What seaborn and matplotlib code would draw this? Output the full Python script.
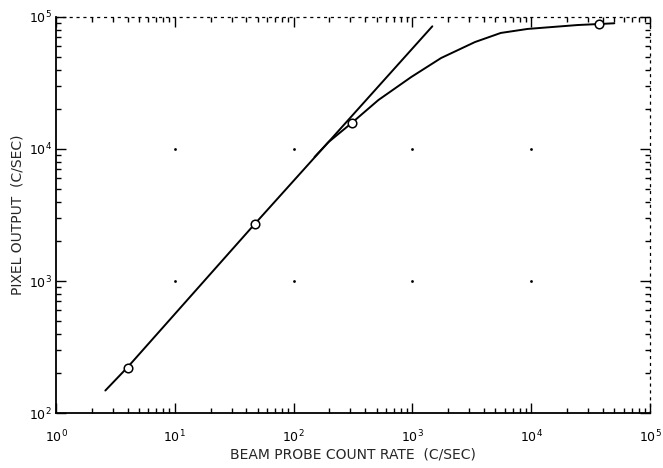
import numpy as np
import pandas as pd
import matplotlib
matplotlib.use("Agg")
import matplotlib.pyplot as plt
import seaborn as sns
from matplotlib.ticker import LogLocator, LogFormatterMathtext, NullFormatter

# Linear-response reference line (pixel output proportional to probe rate)
line_rate = [2.6, 4.0, 47, 200, 1470]
line_output = [148, 222, 2700, 11500, 85000]

# Measured pixel response, rolling off toward saturation
curve_rate = [150, 197, 307, 517, 977, 1743, 3360, 5540, 9330, 24500, 37400, 50000]
curve_output = [8700, 11300, 15700, 23500, 35100, 48900, 64600, 75700, 81200, 86900, 88500, 89600]

# Open-circle measurement markers
point_rate = [4.0, 47, 307, 37400]
point_output = [220, 2700, 15700, 88500]

x_label = "BEAM PROBE COUNT RATE  (C/SEC)"
y_label = "PIXEL OUTPUT  (C/SEC)"
x_limits = (1, 1e5)
y_limits = (1e2, 1e5)

sns.set_style("ticks")
plt.rcParams["font.family"] = ["DejaVu Sans"]

fig = plt.figure(figsize=(6.63, 4.68), dpi=100)
ax = fig.add_axes([0.0845, 0.1175, 0.896, 0.8462])

line_df = pd.DataFrame({"rate": line_rate, "output": line_output})
curve_df = pd.DataFrame({"rate": curve_rate, "output": curve_output})
point_df = pd.DataFrame({"rate": point_rate, "output": point_output})

ax.set_xscale("log")
ax.set_yscale("log")
ax.set_xlim(*x_limits)
ax.set_ylim(*y_limits)

# Dots at interior decade intersections
gx = [10.0 ** k for k in range(1, 5)]
gy = [10.0 ** k for k in range(3, 5)]
grid_pts = pd.DataFrame([(a, b) for a in gx for b in gy], columns=["rate", "output"])
ax.scatter(grid_pts["rate"], grid_pts["output"], s=4, color="black", zorder=1, linewidths=0)

sns.lineplot(data=line_df, x="rate", y="output", ax=ax, color="black",
             linewidth=1.4, sort=True, estimator=None, zorder=3)
sns.lineplot(data=curve_df, x="rate", y="output", ax=ax, color="black",
             linewidth=1.4, sort=True, estimator=None, zorder=3)
sns.scatterplot(data=point_df, x="rate", y="output", ax=ax, s=38,
                facecolor="white", edgecolor="black", linewidth=1.1, zorder=4)

ax.xaxis.set_major_locator(LogLocator(base=10))
ax.yaxis.set_major_locator(LogLocator(base=10))
ax.xaxis.set_minor_locator(LogLocator(base=10, subs=np.arange(2, 10)))
ax.yaxis.set_minor_locator(LogLocator(base=10, subs=np.arange(2, 10)))
ax.xaxis.set_major_formatter(LogFormatterMathtext())
ax.yaxis.set_major_formatter(LogFormatterMathtext())
ax.xaxis.set_minor_formatter(NullFormatter())
ax.yaxis.set_minor_formatter(NullFormatter())

ax.tick_params(which="both", direction="in", top=True, right=True, colors="black")
ax.tick_params(which="major", length=7, width=1.0, labelsize=9)
ax.tick_params(which="minor", length=3.5, width=1.0)
ax.tick_params(axis="x", which="major", pad=11)
ax.tick_params(axis="y", which="major", pad=3)

for side in ["left", "bottom"]:
    ax.spines[side].set_visible(True)
    ax.spines[side].set_linewidth(1.3)
    ax.spines[side].set_color("black")
for side in ["top", "right"]:
    ax.spines[side].set_visible(True)
    ax.spines[side].set_linewidth(0.9)
    ax.spines[side].set_linestyle((0, (1.5, 4)))
    ax.spines[side].set_color("black")

ax.set_xlabel(x_label, fontsize=10, labelpad=2)
ax.set_ylabel(y_label, fontsize=10, labelpad=3)

fig.savefig("out.png", dpi=100, facecolor="white")
